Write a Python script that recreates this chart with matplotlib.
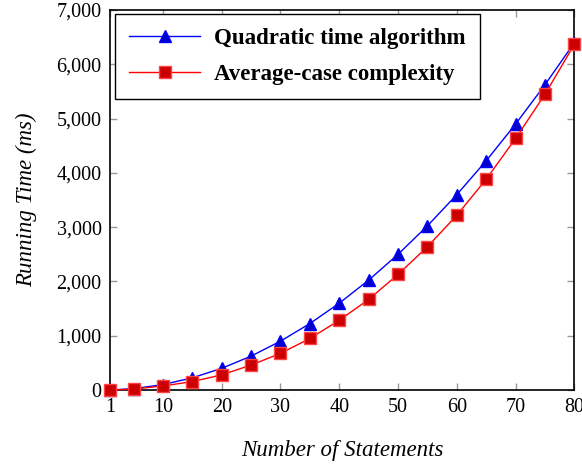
import matplotlib
matplotlib.use("Agg")
import matplotlib.pyplot as plt
from matplotlib.ticker import FuncFormatter

plt.rcParams['font.family'] = ['Liberation Serif', 'DejaVu Serif']

n = [1, 5, 10, 15, 20, 25, 30, 35, 40, 45, 50, 55, 60, 65, 70, 75, 80]
quadratic = [1, 25, 100, 225, 400, 625, 900, 1225, 1600, 2025, 2500,
             3025, 3600, 4225, 4900, 5625, 6400]
average = [1, 18, 75, 155, 280, 460, 675, 950, 1285, 1670, 2130,
           2640, 3220, 3885, 4635, 5450, 6370]
xticks = [1, 10, 20, 30, 40, 50, 60, 70, 80]
yticks = [0, 1000, 2000, 3000, 4000, 5000, 6000, 7000]

fig = plt.figure(figsize=(5.82, 4.66), dpi=100)
ax = fig.add_axes([0.189, 0.163, 0.798, 0.8155])

ax.plot(n, quadratic, color='blue', linewidth=1.0, marker='^', markersize=8,
        markerfacecolor='#0000cc', markeredgecolor='blue',
        label='Quadratic time algorithm', clip_on=False, zorder=3)
ax.plot(n, average, color='red', linewidth=1.0, marker='s', markersize=8,
        markerfacecolor='#cc0000', markeredgecolor='#ff4444',
        label='Average-case complexity', clip_on=False, zorder=4)

ax.set_xlim(1, 80)
ax.set_ylim(0, 7000)
ax.set_xticks(xticks)
ax.set_yticks(yticks)
ax.yaxis.set_major_formatter(FuncFormatter(lambda v, p: '{:,}'.format(int(v))))
ax.tick_params(direction='in', length=5, width=1, color='#999999',
               top=True, right=True, labelsize=14.5, pad=6)
for s in ax.spines.values():
    s.set_linewidth(1.2)

ax.set_xlabel('Number of Statements', fontsize=16.5, style='italic', labelpad=16)
ax.set_ylabel('Running Time (ms)', fontsize=16.5, style='italic', labelpad=14)

leg = ax.legend(loc='upper left', bbox_to_anchor=(0.011, 0.99),
                borderaxespad=0,
                prop={'weight': 'bold', 'size': 16.5}, frameon=True,
                fancybox=False, edgecolor='black', framealpha=1,
                handlelength=3.1, handletextpad=0.6, borderpad=0.62,
                labelspacing=0.65)
leg.get_frame().set_linewidth(1.0)

fig.savefig('out.png', dpi=100)
